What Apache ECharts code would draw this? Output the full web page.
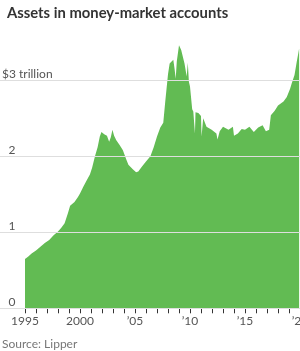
<!DOCTYPE html>
<html>
<head>
<meta charset="utf-8">
<script src="https://cdn.jsdelivr.net/npm/echarts@6/dist/echarts.min.js"></script>
<style>
  html, body { margin: 0; padding: 0; background: #fff; }
  #chart { width: 300px; height: 351px; }
</style>
</head>
<body>
<div id="chart"></div>
<script>
// money-market assets, $ trillion
const years = [
  1995.0, 1995.3, 1995.6, 1996.0, 1996.4, 1996.8, 1997.2, 1997.6, 1998.0, 1998.3,
  1998.6, 1998.9, 1999.1, 1999.5, 1999.8, 2000.0, 2000.3, 2000.6, 2000.9, 2001.1,
  2001.36, 2001.6, 2001.8, 2001.95, 2002.2, 2002.45, 2002.65, 2002.8, 2002.95, 2003.1,
  2003.3, 2003.6, 2003.9, 2004.2, 2004.4, 2004.8, 2005.1, 2005.3, 2005.6, 2006.0,
  2006.4, 2006.7, 2007.0, 2007.3, 2007.57, 2007.75, 2008.0, 2008.15, 2008.3, 2008.48,
  2008.6, 2008.7, 2008.8, 2009.0, 2009.2, 2009.5, 2009.7, 2009.8, 2009.9, 2010.0,
  2010.2, 2010.3, 2010.45, 2010.5, 2010.76, 2011.0, 2011.05, 2011.2, 2011.5, 2011.97,
  2012.4, 2012.5, 2012.7, 2013.0, 2013.5, 2013.9, 2014.0, 2014.35, 2014.7, 2015.0,
  2015.4, 2015.8, 2016.2, 2016.6, 2016.9, 2017.2, 2017.35, 2017.7, 2018.0, 2018.5,
  2018.8, 2019.1, 2019.25, 2019.5, 2019.7, 2019.85, 2019.92
];
const assets = [
  0.65, 0.68, 0.72, 0.76, 0.81, 0.86, 0.90, 0.96, 1.01, 1.06,
  1.12, 1.25, 1.35, 1.40, 1.46, 1.51, 1.60, 1.68, 1.76, 1.85,
  2.00, 2.12, 2.26, 2.32, 2.29, 2.27, 2.19, 2.25, 2.35, 2.27,
  2.21, 2.15, 2.08, 1.96, 1.89, 1.83, 1.79, 1.80, 1.86, 1.93,
  2.00, 2.12, 2.26, 2.38, 2.44, 2.72, 3.08, 3.22, 3.20, 3.27,
  3.15, 3.02, 3.25, 3.46, 3.40, 3.22, 3.05, 3.23, 2.98, 2.92,
  2.62, 2.59, 2.30, 2.58, 2.57, 2.53, 2.26, 2.50, 2.39, 2.35,
  2.30, 2.22, 2.33, 2.39, 2.35, 2.39, 2.27, 2.30, 2.36, 2.35,
  2.39, 2.32, 2.38, 2.41, 2.33, 2.35, 2.54, 2.60, 2.67, 2.72,
  2.78, 2.89, 2.96, 3.07, 3.24, 3.36, 3.42
];
const yTicks = [0, 1, 2, 3];
const xTicks = [1995, 1996, 1997, 1998, 1999, 2000, 2001, 2002, 2003, 2004, 2005, 2006, 2007,
  2008, 2009, 2010, 2011, 2012, 2013, 2014, 2015, 2016, 2017, 2018, 2019, 2020];
const xLabels = [1995, 2000, 2005, 2010, 2015, 2020];

const font = "Lato";
const pts = years.map((y, i) => [y, assets[i]]);

const option = {
  animation: false,
  title: {
    text: "Assets in money-market accounts",
    left: 2, top: 1,
    textStyle: { fontFamily: font, fontWeight: "bold", fontSize: 14.8, color: "#333" }
  },
  graphic: [{
    type: "text", left: 2, top: 338,
    style: { text: "Source: Lipper", fontFamily: font, fontSize: 12, fill: "#777" }
  }],
  grid: { left: 0, right: 0, top: 34.7, bottom: 42.7, outerBoundsMode: "none", containLabel: false },
  xAxis: {
    type: "value",
    min: 1992.727, max: 2020,
    splitLine: { show: false },
    axisLine: { lineStyle: { color: "#333", width: 1 } },
    axisTick: { customValues: xTicks, length: 5, lineStyle: { color: "#333" } },
    axisLabel: {
      customValues: xLabels, margin: 7, hideOverlap: false,
      fontFamily: font, fontSize: 12, color: "#555",
      formatter: (v) => v == 1995 || v == 2000 ? String(v) : "\u2019" + String(v).slice(2)
    }
  },
  yAxis: {
    type: "value", min: 0, max: 3.6, z: 5,
    axisLine: { show: false },
    axisTick: { show: false, customValues: yTicks },
    splitLine: { lineStyle: { color: "#dedede", width: 1 } },
    axisLabel: {
      customValues: yTicks, inside: true, margin: 2, verticalAlign: "bottom",
      fontFamily: font, fontSize: 12, color: "#555",
      formatter: (v) => v == 3 ? "$3 trillion" : "{n|" + v + "}",
      rich: { n: { padding: [0, 0, 0, 6.5], fontFamily: font, fontSize: 12, color: "#555" } }
    }
  },
  series: [{
    type: "line",
    data: pts,
    showSymbol: false,
    lineStyle: { width: 0 },
    areaStyle: { color: "#62bb53", opacity: 1 },
    z: 2
  }]
};

const chart = echarts.init(document.getElementById("chart"));
chart.setOption(option);
</script>
</body>
</html>
